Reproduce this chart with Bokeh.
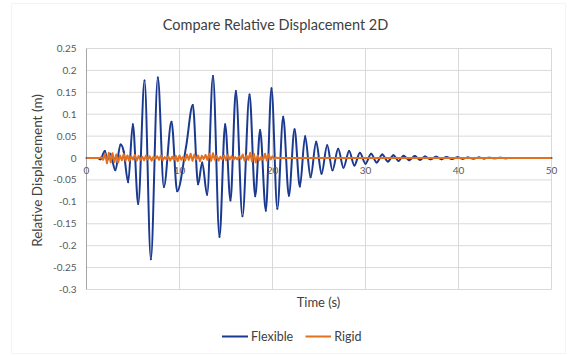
import math
import numpy as np
from bokeh.plotting import figure
from bokeh.models import (Range1d, ColumnDataSource, LabelSet, Label, Legend,
                          LegendItem, BoxAnnotation)
from bokeh.core.properties import value
from bokeh.embed import file_html
from bokeh.resources import INLINE

TITLE = "Compare Relative Displacement 2D"
X_LABEL = "Time (s)"
Y_LABEL = "Relative Displacement (m)"
SERIES_NAMES = ["Flexible", "Rigid"]

X_TICKS = [0, 10, 20, 30, 40, 50]
X_TICK_LABELS = ["0", "10", "20", "30", "40", "50"]
Y_TICKS = [-0.3, -0.25, -0.2, -0.15, -0.1, -0.05, 0, 0.05, 0.1, 0.15, 0.2, 0.25]
Y_TICK_LABELS = ["-0.3", "-0.25", "-0.2", "-0.15", "-0.1", "-0.05", "0",
                 "0.05", "0.1", "0.15", "0.2", "0.25"]
X_MIN, X_MAX = 0, 50
Y_MIN, Y_MAX = -0.3, 0.25

# Flexible: turning points (peaks / troughs / shoulders)
FLEX_T = [0.0, 1.2, 1.5, 1.97, 2.25, 2.55, 3.1, 3.66, 4.0, 4.48, 4.98, 5.56, 6.24,
          6.92, 7.67, 8.32, 9.14, 9.75, 10.7, 11.43, 12.0, 12.44, 12.97, 13.6,
          14.3, 14.91, 15.48, 16.06, 16.77, 17.53, 18.14, 18.67, 19.28, 19.89,
          20.52, 21.15, 21.76, 22.37, 22.94, 23.51, 24.09, 24.7, 25.27, 25.88,
          26.45, 27.06, 27.63, 28.24, 28.8, 29.4, 30.0, 30.6, 31.2, 31.8, 32.4,
          33.0, 33.55, 34.1, 34.7, 35.3, 35.85, 36.4, 37.0, 37.6, 38.15, 38.7,
          39.3, 39.9, 40.45, 41.0, 41.6, 42.2, 42.75, 43.3, 43.9, 44.5, 45.1,
          45.7, 50.0]
FLEX_Y = [0.0, 0.0, -0.003, 0.016, -0.004, 0.010, -0.028, 0.031, 0.015, -0.055,
          0.077, -0.105, 0.177, -0.231, 0.184, -0.066, 0.083, -0.076, 0.025,
          0.121, -0.060, -0.010, -0.084, 0.187, -0.180, 0.077, -0.097, 0.153,
          -0.133, 0.145, -0.087, 0.064, -0.120, 0.159, -0.116, 0.094, -0.086,
          0.066, -0.065, 0.050, -0.044, 0.037, -0.036, 0.029, -0.028, 0.021,
          -0.022, 0.016, -0.017, 0.012, -0.013, 0.010, -0.010, 0.008, -0.008,
          0.0065, -0.0065, 0.0055, -0.005, 0.0045, -0.004, 0.0035, -0.003,
          0.003, -0.0025, 0.0022, -0.002, 0.0018, -0.0016, 0.0014, -0.0012,
          0.001, -0.0009, 0.0008, -0.0006, 0.0005, -0.0003, 0.0, 0.0]

# Rigid: samples every 0.2 s from 1.4 s to 20.6 s, zero before and after
RIGID_START = 1.4
RIGID_STEP = 0.2
RIGID_VALS = [0.0, 0.002, -0.004, 0.010, -0.012, 0.012, -0.010, 0.011, -0.009,
              0.008, -0.010, 0.006, -0.005, 0.009, -0.006, 0.006, -0.007, 0.004,
              -0.003, 0.007, -0.006, 0.005, -0.004, 0.003, -0.005, 0.006, -0.003,
              0.004, -0.006, 0.003, -0.002, 0.004, -0.004, 0.006, -0.005, 0.002,
              -0.003, 0.004, -0.006, 0.003, -0.004, 0.005, -0.007, 0.006, -0.004,
              0.003, -0.006, 0.008, -0.004, 0.010, -0.006, 0.008, -0.003, 0.006,
              -0.007, 0.005, -0.002, 0.007, -0.004, 0.010, -0.006, 0.011, -0.004,
              0.005, -0.006, 0.003, -0.003, 0.006, -0.005, 0.007, -0.003, 0.004,
              -0.004, 0.002, -0.003, 0.004, -0.002, 0.008, -0.006, 0.006, -0.004,
              0.012, -0.008, 0.010, -0.010, 0.006, -0.005, 0.003, -0.004, 0.010,
              -0.006, 0.008, -0.003, 0.004, -0.002, 0.001, 0.0]
RIGID_END = 50.0

FLEX_COLOR = "#1B3A8F"
RIGID_COLOR = "#E2701F"
TEXT_COLOR = "#404040"
TICK_COLOR = "#595959"
GRID_COLOR = "#D9D9D9"
AXIS_COLOR = "#A6A6A6"
FONT = "Lato"

W, H = 568, 355
# plot-area placement on the canvas (pixels)
PA_LEFT, PA_RIGHT, PA_TOP, PA_BOTTOM = 86, 551, 48, 289
sx = (X_MAX - X_MIN) / (PA_RIGHT - PA_LEFT)
sy = (Y_MAX - Y_MIN) / (PA_BOTTOM - PA_TOP)
x_range = Range1d(X_MIN - PA_LEFT * sx, X_MAX + (W - PA_RIGHT) * sx)
y_range = Range1d(Y_MIN - (H - PA_BOTTOM) * sy, Y_MAX + PA_TOP * sy)

p = figure(width=W, height=H, x_range=x_range, y_range=y_range,
           output_backend="svg", toolbar_location=None,
           x_axis_location=None, y_axis_location=None,
           min_border=0, min_border_left=0, min_border_right=0,
           min_border_top=0, min_border_bottom=0)
p.outline_line_color = None
p.background_fill_color = "white"
p.border_fill_color = "white"
p.xgrid.visible = False
p.ygrid.visible = False

# gridlines of the plot area
p.segment(x0=[X_MIN] * len(Y_TICKS), x1=[X_MAX] * len(Y_TICKS), y0=Y_TICKS, y1=Y_TICKS,
          line_color=GRID_COLOR, line_width=1)
p.segment(x0=X_TICKS, x1=X_TICKS, y0=[Y_MIN] * len(X_TICKS), y1=[Y_MAX] * len(X_TICKS),
          line_color=GRID_COLOR, line_width=1)
# vertical axis line
p.segment(x0=[X_MIN], x1=[X_MIN], y0=[Y_MIN], y1=[Y_MAX], line_color=AXIS_COLOR, line_width=1)

# tick labels
ylab_src = ColumnDataSource(dict(x=[X_MIN] * len(Y_TICKS), y=Y_TICKS, text=Y_TICK_LABELS))
p.add_layout(LabelSet(x="x", y="y", text="text", source=ylab_src, text_align="right",
                      text_baseline="middle", x_offset=-10, text_font=value(FONT),
                      text_font_size="10px", text_color=TICK_COLOR))
xlab_src = ColumnDataSource(dict(x=X_TICKS, y=[0] * len(X_TICKS), text=X_TICK_LABELS))
p.add_layout(LabelSet(x="x", y="y", text="text", source=xlab_src, text_align="center",
                      text_baseline="top", y_offset=-9, text_font=value(FONT),
                      text_font_size="10px", text_color=TICK_COLOR))

# titles
p.add_layout(Label(x=275, y=H - 24, x_units="screen", y_units="screen", text=TITLE,
                   text_align="center", text_baseline="middle", text_font=FONT,
                   text_font_size="14.5px", text_color=TEXT_COLOR))
p.add_layout(Label(x=318, y=H - 301, x_units="screen", y_units="screen", text=X_LABEL,
                   text_align="center", text_baseline="middle", text_font=FONT,
                   text_font_size="13px", text_color=TEXT_COLOR))
p.add_layout(Label(x=36, y=H - 170, x_units="screen", y_units="screen", text=Y_LABEL,
                   angle=math.pi / 2, text_align="center", text_baseline="middle",
                   text_font=FONT, text_font_size="13.5px", text_color=TEXT_COLOR))

# flexible series: smooth curve through the turning points
t = np.array(FLEX_T, dtype=float)
y = np.array(FLEX_Y, dtype=float)
n = len(t)
m = np.zeros(n)
for i in range(1, n - 1):
    d1 = y[i] - y[i - 1]
    d2 = y[i + 1] - y[i]
    if d1 * d2 > 0:
        m[i] = (y[i + 1] - y[i - 1]) / (t[i + 1] - t[i - 1])
dt = np.diff(t)
flex_src = ColumnDataSource(dict(
    x0=t[:-1], y0=y[:-1], x1=t[1:], y1=y[1:],
    cx0=t[:-1] + dt / 3, cy0=y[:-1] + m[:-1] * dt / 3,
    cx1=t[1:] - dt / 3, cy1=y[1:] - m[1:] * dt / 3))
r_flex = p.bezier(x0="x0", y0="y0", x1="x1", y1="y1", cx0="cx0", cy0="cy0",
                  cx1="cx1", cy1="cy1", source=flex_src, line_color=FLEX_COLOR,
                  line_width=2, line_cap="round")

# rigid series
rig_t = [0.0] + [round(RIGID_START + RIGID_STEP * i, 2) for i in range(len(RIGID_VALS))] + [RIGID_END]
rig_y = [0.0] + RIGID_VALS + [0.0]
r_rig = p.line(rig_t, rig_y, line_color=RIGID_COLOR, line_width=2, line_join="round")

legend = Legend(items=[LegendItem(label=SERIES_NAMES[0], renderers=[r_flex]),
                       LegendItem(label=SERIES_NAMES[1], renderers=[r_rig])],
                orientation="horizontal", location=(222, H - 344),
                glyph_width=26, glyph_height=16, label_height=16, label_standoff=3,
                spacing=12, padding=0, margin=0, border_line_color=None,
                background_fill_alpha=0, label_text_font=FONT,
                label_text_font_size="12.5px", label_text_color=TEXT_COLOR)
p.add_layout(legend)

# outer chart border
p.add_layout(BoxAnnotation(left=11, right=565, top=H - 3, bottom=H - 353,
                           left_units="screen", right_units="screen",
                           top_units="screen", bottom_units="screen",
                           fill_alpha=0, line_color=GRID_COLOR, line_width=1))

open("out.html", "w").write(file_html(p, INLINE))
